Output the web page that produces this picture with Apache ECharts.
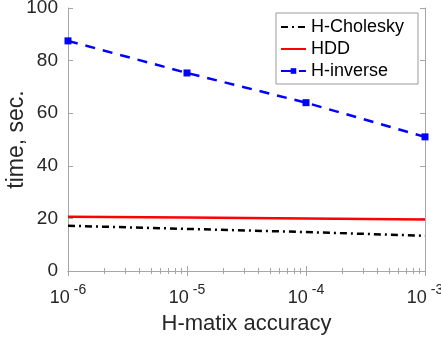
<!DOCTYPE html>
<html>
<head>
<meta charset="utf-8">
<script src="https://cdn.jsdelivr.net/npm/echarts@6/dist/echarts.min.js"></script>
<style>
  html, body { margin: 0; padding: 0; background: #fff; }
  #chart { width: 441px; height: 337px; }
</style>
</head>
<body>
<div id="chart"></div>
<script>
// H-matrix accuracy values (x, log scale)
var accuracy = [1e-6, 1e-5, 1e-4, 1e-3];
// time in seconds
var hCholesky = [17.2, 16.0, 14.8, 13.4];
var hdd = [20.6, 20.3, 20.0, 19.6];
var hInverse = [87.5, 75.3, 64.0, 51.0];

var font = 'Liberation Sans, Arial, sans-serif';
var axisGray = '#a6a6a6';
var textColor = '#262626';

function pairs(ys) {
  return accuracy.map(function (x, i) { return [x, ys[i]]; });
}

function expLabel(v) {
  var e = Math.round(Math.log10(v));
  return '{b|10}{e|' + e + '}';
}

var chart = echarts.init(document.getElementById('chart'));

var xBase = {
  type: 'log',
  logBase: 10,
  min: 1e-6,
  max: 1e-3,
  axisLine: { show: true, lineStyle: { color: axisGray, width: 1 } },
  axisTick: { show: true, inside: true, length: 5, lineStyle: { color: axisGray } },
  minorTick: { show: true, splitNumber: 9, length: 3, lineStyle: { color: axisGray } },
  splitLine: { show: false }
};

var yBase = {
  type: 'value',
  min: 0,
  max: 100,
  interval: 20,
  axisLine: { show: true, lineStyle: { color: axisGray, width: 1 } },
  axisTick: { show: true, inside: true, length: 5, lineStyle: { color: axisGray } },
  splitLine: { show: false }
};

chart.setOption({
  animation: false,
  textStyle: { fontFamily: font },
  grid: { left: 68, right: 16, top: 8, bottom: 66, containLabel: false, outerBoundsMode: 'none' },
  legend: {
    orient: 'vertical',
    right: 23,
    top: 13,
    backgroundColor: '#fff',
    borderColor: '#9a9a9a',
    borderWidth: 1,
    borderRadius: 0,
    padding: [5, 14, 4, 4],
    itemGap: 4,
    itemWidth: 25,
    itemHeight: 7,
    textStyle: { fontSize: 18, lineHeight: 18, color: '#000' },
    data: [
      { name: 'H-Cholesky', itemStyle: { opacity: 0 } },
      { name: 'HDD', itemStyle: { opacity: 0 } },
      { name: 'H-inverse' }
    ]
  },
  xAxis: [
    Object.assign({}, xBase, {
      position: 'bottom',
      name: 'H-matix accuracy',
      nameLocation: 'middle',
      nameGap: 42,
      nameMoveOverlap: false,
      nameTextStyle: { fontSize: 22, color: textColor },
      axisLabel: {
        margin: 10,
        formatter: expLabel,
        rich: {
          b: { fontSize: 18, color: textColor, padding: [8, 0, 0, 0] },
          e: { fontSize: 14, color: textColor, padding: [0, 0, 8, 4] }
        }
      }
    }),
    Object.assign({}, xBase, {
      position: 'top',
      axisLabel: { show: false }
    })
  ],
  yAxis: [
    Object.assign({}, yBase, {
      position: 'left',
      name: 'time, sec.',
      nameLocation: 'middle',
      nameGap: 40,
      nameMoveOverlap: false,
      nameTextStyle: { fontSize: 23, color: textColor },
      axisLabel: { fontSize: 19, color: textColor, margin: 10 }
    }),
    Object.assign({}, yBase, {
      position: 'right',
      axisLabel: { show: false }
    })
  ],
  series: [
    {
      name: 'H-Cholesky',
      type: 'line',
      data: pairs(hCholesky),
      symbol: 'none',
      color: '#000',
      lineStyle: { color: '#000', width: 2.5, type: [7, 4, 2, 4] }
    },
    {
      name: 'HDD',
      type: 'line',
      data: pairs(hdd),
      symbol: 'none',
      color: '#ff0000',
      lineStyle: { color: '#ff0000', width: 2.5, type: 'solid' }
    },
    {
      name: 'H-inverse',
      type: 'line',
      data: pairs(hInverse),
      symbol: 'rect',
      symbolSize: 7,
      color: '#0000ff',
      itemStyle: { color: '#0000ff' },
      lineStyle: { color: '#0000ff', width: 2.5, type: [10, 8] }
    }
  ]
});
</script>
</body>
</html>
